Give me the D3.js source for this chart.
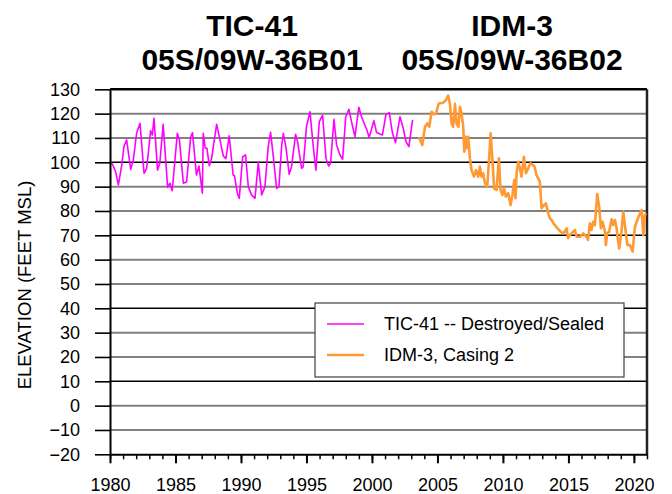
<!DOCTYPE html>
<html>
<head>
<meta charset="utf-8">
<style>
	body { margin:0; background:#fff; }
	svg text { font-family: "Liberation Sans", Arial, sans-serif; fill:#000; }
</style>
</head>
<body>
<svg id="chart" width="672" height="494"></svg>
<script src="https://cdn.jsdelivr.net/npm/d3@7/dist/d3.min.js"></script>
<script>

// TIC-41 (05S/09W-36B01)
var tic41Years = [1980.08,1980.25,1980.43,1980.64,1980.9,1981.06,1981.27,1981.58,1981.78,1982.03,1982.29,1982.6,1982.8,1983.1,1983.23,1983.36,1983.63,1983.8,1984.06,1984.4,1984.58,1984.75,1985.14,1985.3,1985.6,1985.85,1986.16,1986.3,1986.6,1986.79,1987.05,1987.12,1987.27,1987.4,1987.58,1987.76,1988.14,1988.4,1988.65,1988.85,1989.1,1989.4,1989.5,1989.72,1989.87,1990.13,1990.35,1990.56,1990.8,1991.07,1991.32,1991.58,1991.83,1992.08,1992.26,1992.47,1992.72,1992.9,1993.1,1993.23,1993.43,1993.68,1993.86,1994.17,1994.32,1994.63,1994.75,1995.0,1995.27,1995.52,1995.72,1995.98,1996.23,1996.49,1996.69,1996.84,1997.1,1997.3,1997.56,1997.76,1998.0,1998.24,1998.44,1998.7,1999.0,1999.2,1999.59,1999.79,2000.15,2000.35,2000.8,2001.07,2001.32,2001.57,2001.8,2002.14,2002.39,2002.6,2002.82,2003.1];
var tic41Elev = [100.2,98.5,96.1,90.7,98.9,106.4,109.2,97.1,100.9,111.9,116,95.5,97.5,113,111.2,118.1,96.8,99.6,115.6,89.7,91.4,88.3,111.9,109.2,91.4,92,110.5,112.2,94.8,98.5,87.3,111.9,105.8,105.8,98.6,101.6,115.6,109.2,102.6,101.5,110.9,94.8,94.5,87.3,85.2,102.3,103,90,86.6,85.2,99.9,86.6,90,106.4,112.3,102.3,89.3,90,106.4,111.9,106.4,95.1,98.2,111.5,108.5,97.5,98.2,114.6,120.8,106.4,96.8,116.7,119.4,101.6,98.5,99.6,117.7,107.1,103,101.2,118.7,121.8,116.7,110.5,122.6,118.7,113.6,110.3,117.1,112.2,111.2,119.7,120.4,111.9,108.1,118.7,114,108.5,106.4,117.4];

// IDM-3, Casing 2 (05S/09W-36B02)
var idm3Years = [2003.59,2003.84,2004.05,2004.22,2004.38,2004.55,2004.73,2004.89,2005.1,2005.44,2005.65,2005.82,2005.95,2006.08,2006.2,2006.34,2006.46,2006.6,2006.72,2006.84,2006.97,2007.05,2007.15,2007.22,2007.35,2007.48,2007.6,2007.79,2007.94,2008.11,2008.24,2008.37,2008.49,2008.63,2008.8,2008.93,2009.06,2009.2,2009.33,2009.51,2009.69,2009.82,2009.97,2010.08,2010.23,2010.41,2010.58,2010.73,2010.86,2010.96,2011.04,2011.17,2011.3,2011.42,2011.6,2011.76,2011.93,2012.1,2012.29,2012.42,2012.56,2012.82,2012.95,2013.13,2013.28,2013.46,2013.59,2013.71,2013.9,2014.1,2014.35,2014.56,2014.73,2014.86,2014.98,2015.11,2015.36,2015.5,2015.63,2015.88,2016.13,2016.38,2016.5,2016.64,2016.76,2016.89,2017.02,2017.2,2017.35,2017.48,2017.6,2017.79,2017.86,2017.96,2018.11,2018.3,2018.42,2018.55,2018.68,2018.75,2018.88,2019.05,2019.19,2019.39,2019.5,2019.69,2019.9,2020.08,2020.26,2020.46,2020.59,2020.72,2020.84,2020.92];
var idm3Elev = [110.3,107.1,114.6,116,114.6,120.8,119.7,120.1,124.2,124.5,125.6,127.4,124.2,116,114.6,124,116,114.6,122.8,120.1,114.6,104.4,110.5,105.8,110.5,101.6,96.8,94.1,96.8,94.1,98.2,94.1,95.5,91.4,90,100.2,111.9,100.9,89.3,88.6,101.6,88.6,86.6,89.3,85.9,87.3,82.4,86.6,92.7,85.2,95.5,100.2,97.5,94.1,102.3,95.5,97.5,99.6,98.9,98.2,94.8,92,81.1,82.4,83.1,79,77,76.3,74.6,73.3,71.8,70.8,71.5,72.9,68.8,70.1,71.5,72.2,69.4,69.4,70.8,69.4,68.1,74.9,72.2,75.6,74.2,87,81.7,72.9,75.6,71.5,66,70.8,71.5,76.6,74.2,76.3,72.9,69.4,64.6,71.5,79.7,70.8,66,66,63.3,73.5,76.3,79,80.4,70.1,78.3,79];

var yTicks = d3.range(-20, 131, 10);
var xTicks = d3.range(1980, 2021, 5);
var xMinor = d3.range(1980, 2022, 1);
var seriesNames = ["TIC-41 -- Destroyed/Sealed", "IDM-3, Casing 2"];
var seriesColors = ["#ff00ff", "#ff9933"];
var titles = [["TIC-41", "05S/09W-36B01"], ["IDM-3", "05S/09W-36B02"]];

var margin = {top: 89.3, right: 25, bottom: 40, left: 110},
	width = 672 - margin.left - margin.right,
	height = 454.3 - margin.top;

var svg = d3.select("#chart");
var g = svg.append("g").attr("transform", "translate(" + margin.left + "," + margin.top + ")");

var x = d3.scaleLinear().domain([1980, 2021]).range([0, width]);
var y = d3.scaleLinear().domain([-20, 130]).range([height, 0]);

// titles
var titleX = [252, 512];
titles.forEach(function(t, i) {
	t.forEach(function(line, j) {
		svg.append("text")
			.attr("x", titleX[i])
			.attr("y", 36 + j * 34)
			.attr("text-anchor", "middle")
			.style("font-size", "30px")
			.style("font-weight", "bold")
			.text(line);
	});
});

// gridlines (every third one looks darker in the original)
g.selectAll(".grid")
	.data(yTicks.filter(function(d) { return d > -20; }))
	.enter().append("line")
	.attr("x1", 0).attr("x2", width)
	.attr("y1", function(d) { return y(d); })
	.attr("y2", function(d) { return y(d); })
	.attr("stroke", function(d) { return (d - 10) % 30 === 0 ? "#000" : "#808080"; })
	.attr("stroke-width", function(d) { return d === 130 ? 2.5 : ((d - 10) % 30 === 0 ? 1.6 : 2); });

// right border
g.append("line")
	.attr("x1", width).attr("x2", width)
	.attr("y1", 0).attr("y2", height)
	.attr("stroke", "#222").attr("stroke-width", 2.5);

// series
var line = d3.line()
	.x(function(d) { return x(d[0]); })
	.y(function(d) { return y(d[1]); });

var ticData = tic41Years.map(function(d, i) { return [d, tic41Elev[i]]; });
var idmData = idm3Years.map(function(d, i) { return [d, idm3Elev[i]]; });

g.append("path").datum(ticData)
	.attr("d", line).attr("fill", "none")
	.attr("stroke", seriesColors[0]).attr("stroke-width", 1.6)
	.attr("stroke-linejoin", "round");
g.append("path").datum(idmData)
	.attr("d", line).attr("fill", "none")
	.attr("stroke", seriesColors[1]).attr("stroke-width", 2.6)
	.attr("stroke-linejoin", "round");

// y axis
var yAxis = g.append("g")
	.call(d3.axisLeft(y).tickValues(yTicks).tickSize(15).tickPadding(15).tickSizeOuter(0));
yAxis.select(".domain").attr("stroke", "#000").attr("stroke-width", 2);
yAxis.selectAll(".tick line").attr("stroke", "#000").attr("stroke-width", 1.6);
yAxis.selectAll("text").style("font-size", "18px");

// x axis, minor ticks first
var xg = g.append("g").attr("transform", "translate(0," + height + ")");
xg.call(d3.axisBottom(x).tickValues(xMinor).tickSize(5).tickFormat(""));
xg.select(".domain").remove();
xg.selectAll(".tick line").attr("stroke", "#000").attr("stroke-width", 1.5);

var xAxis = g.append("g").attr("transform", "translate(0," + height + ")")
	.call(d3.axisBottom(x).tickValues(xTicks).tickSize(9).tickPadding(15).tickSizeOuter(0).tickFormat(d3.format("d")));
xAxis.select(".domain").attr("stroke", "#000").attr("stroke-width", 2);
xAxis.selectAll(".tick line").attr("stroke", "#000").attr("stroke-width", 2);
xAxis.selectAll("text").style("font-size", "18px");

// y axis title
svg.append("text")
	.attr("transform", "translate(31,285) rotate(-90)")
	.attr("text-anchor", "middle")
	.style("font-size", "18.5px")
	.text("ELEVATION (FEET MSL)");

// legend
var legend = svg.append("g").attr("transform", "translate(315,303)");
legend.append("rect")
	.attr("width", 309).attr("height", 74)
	.attr("fill", "#fff").attr("stroke", "#404040").attr("stroke-width", 1.2);
seriesNames.forEach(function(name, i) {
	legend.append("line")
		.attr("x1", 12).attr("x2", 49)
		.attr("y1", 21 + i * 31).attr("y2", 21 + i * 31)
		.attr("stroke", seriesColors[i]).attr("stroke-width", i === 0 ? 1.6 : 2.6);
	legend.append("text")
		.attr("x", 69).attr("y", 21 + i * 31).attr("dy", "0.35em")
		.style("font-size", "18px")
		.text(name);
});
</script>
</body>
</html>
